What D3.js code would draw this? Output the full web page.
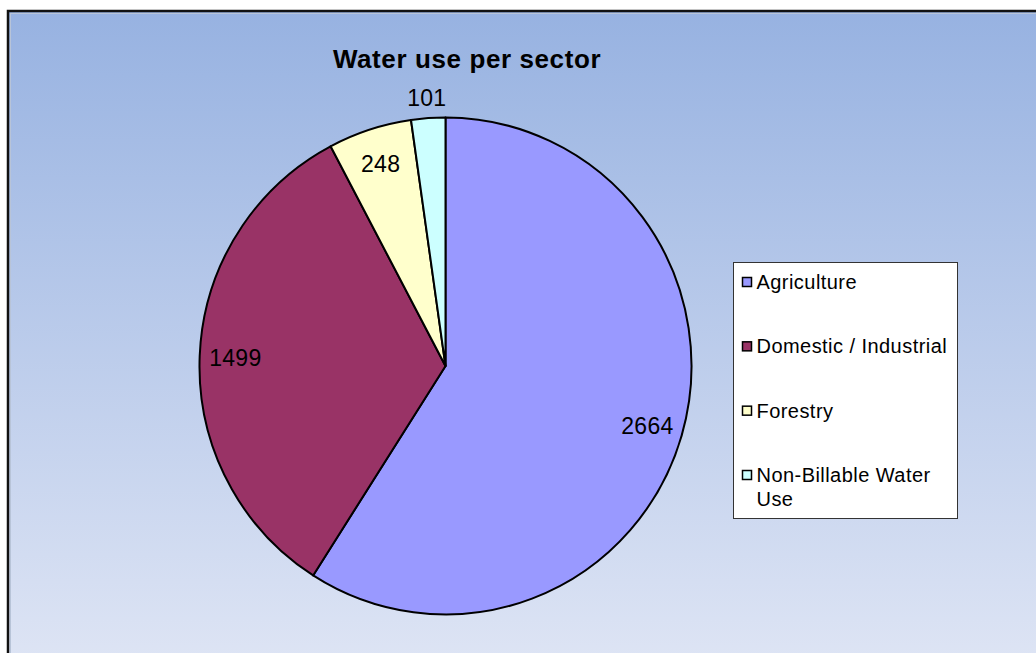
<!DOCTYPE html>
<html>
<head>
<meta charset="utf-8">
<script src="https://cdn.jsdelivr.net/npm/d3@7"></script>
<style>
  html, body { margin: 0; padding: 0; background: #ffffff; }
  svg { display: block; }
</style>
</head>
<body>
<svg id="chart" width="1036" height="653"></svg>
<script>
// Water use per sector
const categories = ["Agriculture", "Domestic / Industrial", "Forestry", "Non-Billable Water Use"];
const values = [2664, 1499, 248, 101];
const colors = ["#9999FF", "#993366", "#FFFFCC", "#CCFFFF"];
const legendLines = [["Agriculture"], ["Domestic / Industrial"], ["Forestry"], ["Non-Billable Water", "Use"]];
const title = "Water use per sector";

const W = 1036, H = 653;
const svg = d3.select("#chart");
const font = "'Liberation Sans', Arial, sans-serif";

// background gradient
const defs = svg.append("defs");
const grad = defs.append("linearGradient").attr("id", "bg")
  .attr("x1", 0).attr("y1", 0).attr("x2", 0).attr("y2", 1);
grad.append("stop").attr("offset", "0%").attr("stop-color", "#97B2E1");
grad.append("stop").attr("offset", "100%").attr("stop-color", "#E0E6F5");

svg.append("rect").attr("x", 8).attr("y", 11).attr("width", W + 20).attr("height", H + 20)
  .attr("fill", "url(#bg)").attr("stroke", "#111").attr("stroke-width", 2.5);
svg.append("rect").attr("x", 10.5).attr("y", 13.5).attr("width", W + 20).attr("height", H + 20)
  .attr("fill", "none").attr("stroke", "#b8c4d8").attr("stroke-width", 1);

// title
svg.append("text").attr("x", 467).attr("y", 68).attr("text-anchor", "middle")
  .attr("font-family", font).attr("font-weight", "bold").attr("font-size", 26)
  .attr("letter-spacing", 0.6)
  .attr("fill", "#000").text(title);

// pie
const cx = 445.5, cy = 366, R = 246;
const data = categories.map((c, i) => ({ name: c, value: values[i], color: colors[i] }));
const pie = d3.pie().value(d => d.value).sort(null);
const arcs = pie(data);
const arc = d3.arc().innerRadius(0).outerRadius(R);
const total = d3.sum(values);

const g = svg.append("g").attr("transform", `translate(${cx},${cy}) scale(1,1.01)`);
g.selectAll("path.slice").data(arcs).join("path")
  .attr("class", "slice")
  .attr("d", arc)
  .attr("fill", d => d.data.color)
  .attr("stroke", "#000").attr("stroke-width", 2).attr("stroke-linejoin", "round");

// value labels: inside the slice, or just outside for very thin slices
const labelArcIn = d3.arc().innerRadius(R * 0.855).outerRadius(R * 0.855);
const labelArcOut = d3.arc().innerRadius(R + 20).outerRadius(R + 20);
g.selectAll("text.val").data(arcs).join("text")
  .attr("class", "val")
  .attr("transform", d => {
    const small = d.data.value / total < 0.03;
    const p = (small ? labelArcOut : labelArcIn).centroid(d);
    return `translate(${p[0]},${p[1]}) scale(1,${1 / 1.01})`;
  })
  .attr("text-anchor", "middle").attr("dy", "0.36em")
  .attr("font-family", font).attr("font-size", 23).attr("letter-spacing", 0.3)
  .attr("fill", "#000")
  .text(d => d.data.value);

// legend
const lx = 733.5, ly = 262.5, lw = 224, lh = 256;
const leg = svg.append("g");
leg.append("rect").attr("x", lx).attr("y", ly).attr("width", lw).attr("height", lh)
  .attr("fill", "#fff").attr("stroke", "#333").attr("stroke-width", 1);
const rowY = d3.scalePoint().domain(categories).range([282, 475]);
const items = leg.selectAll("g.item").data(data).join("g").attr("class", "item")
  .attr("transform", d => `translate(${lx}, ${rowY(d.name)})`);
items.append("rect").attr("x", 9).attr("y", -4.5).attr("width", 9).attr("height", 9)
  .attr("fill", d => d.color).attr("stroke", "#000").attr("stroke-width", 1.5);
items.each(function (d, i) {
  const t = d3.select(this).append("text")
    .attr("font-family", font).attr("font-size", 20).attr("letter-spacing", 0.45)
    .attr("fill", "#000");
  legendLines[i].forEach((line, j) => {
    t.append("tspan").attr("x", 23).attr("y", 7 + j * 24).text(line);
  });
});
</script>
</body>
</html>
